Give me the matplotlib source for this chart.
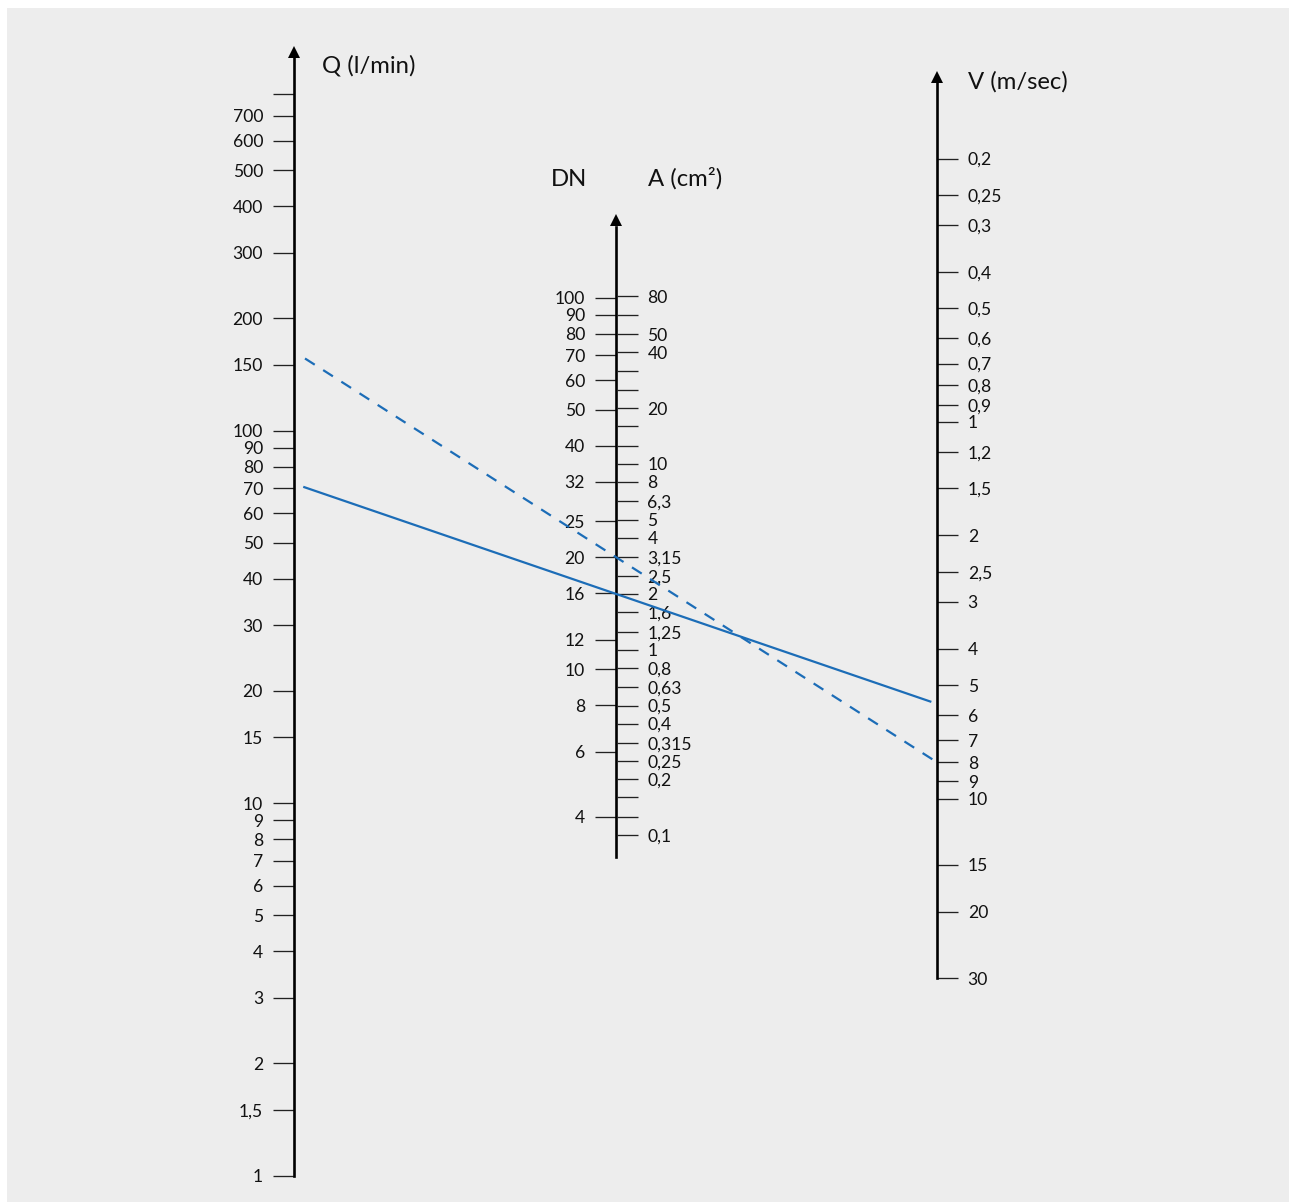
"""Nomogram: flow rate Q, nominal size DN / cross section A and velocity V."""

import matplotlib as mpl

mpl.use("Agg")
import matplotlib.pyplot as plt
import numpy as np
from matplotlib.lines import Line2D
from matplotlib.patches import Rectangle
from matplotlib.ticker import NullLocator
from matplotlib.transforms import ScaledTranslation

# Q scale (l/min), log, increasing upwards
Q_TICKS = [1, 1.5, 2, 3, 4, 5, 6, 7, 8, 9, 10, 15, 20, 30, 40, 50, 60, 70,
           80, 90, 100, 150, 200, 300, 400, 500, 600, 700, 800]
Q_LABELS = ["1", "1,5", "2", "3", "4", "5", "6", "7", "8", "9", "10", "15",
            "20", "30", "40", "50", "60", "70", "80", "90", "100", "150",
            "200", "300", "400", "500", "600", "700", ""]

# DN scale (mm), left side of the middle axis
DN_TICKS = [4, 6, 8, 10, 12, 16, 20, 25, 32, 40, 50, 60, 70, 80, 90, 100]
DN_LABELS = ["4", "6", "8", "10", "12", "16", "20", "25", "32", "40", "50",
             "60", "70", "80", "90", "100"]

# A scale (cm2), right side of the middle axis
A_TICKS = [0.1, 0.125, 0.16, 0.2, 0.25, 0.315, 0.4, 0.5, 0.63, 0.8, 1, 1.25,
           1.6, 2, 2.5, 3.15, 4, 5, 6.3, 8, 10, 12.5, 16, 20, 25, 31.5, 40,
           50, 63, 80]
A_LABELS = ["0,1", "", "", "0,2", "0,25", "0,315", "0,4", "0,5", "0,63",
            "0,8", "1", "1,25", "1,6", "2", "2,5", "3,15", "4", "5", "6,3",
            "8", "10", "", "", "20", "", "", "40", "50", "", "80"]

# V scale (m/sec), log, increasing downwards
V_TICKS = [0.2, 0.25, 0.3, 0.4, 0.5, 0.6, 0.7, 0.8, 0.9, 1, 1.2, 1.5, 2,
           2.5, 3, 4, 5, 6, 7, 8, 9, 10, 15, 20, 30]
V_LABELS = ["0,2", "0,25", "0,3", "0,4", "0,5", "0,6", "0,7", "0,8", "0,9",
            "1", "1,2", "1,5", "2", "2,5", "3", "4", "5", "6", "7", "8", "9",
            "10", "15", "20", "30"]

# reading lines: Q where they meet the Q scale, V where they meet the V scale
LINE_Q = [72, 163]
LINE_V = [5.6, 8.0]

# scale ranges (bottom value, top value)
Q_LIM = (1, 1000)
DN_LIM = (3.12, 155.5)
V_LIM = (30, 0.126)

# ---- layout (pixels) ----
W, H, DPI = 1289, 1202, 100
BG = "#ededed"
BLUE = "#1c6db7"
INK = "#111111"
AX_W = 0.5  # axes are just a spine

Q_X, Q_BOT, Q_TOP = 294, 1175.5, 58
DN_X, DN_BOT, DN_TOP = 616, 857, 226.5
V_X, V_BOT, V_TOP = 936.7, 978.3, 83

TICK_LEN = 21 * 72 / DPI
TICK_PAD = 10 * 72 / DPI
ARROW = 12.5  # px
LABEL_SIZE = 12.6
TITLE_SIZE = 17.2

LINE_GAPS = [(10.3, 6.4), (11.0, 3.0)]
LINE_DASH = ["-", (0, (5.2, 4.5))]

plt.rcParams["font.family"] = ["Lato", "DejaVu Sans"]


def px_rect(x, y_bot, y_top):
    return [x / W, 1 - y_bot / H, AX_W / W, (y_bot - y_top) / H]


def style_scale(ax, ticks, labels, side):
    ax.set_yscale("log")
    ax.set_yticks(ticks, labels)
    ax.yaxis.set_minor_locator(NullLocator())
    ax.set_xticks([])
    if side == "left":
        ax.yaxis.tick_left()
    else:
        ax.yaxis.tick_right()
    ax.tick_params(axis="y", which="major", direction="out", length=TICK_LEN,
                   width=0.95, color="#222222", pad=TICK_PAD,
                   labelsize=LABEL_SIZE, labelcolor=INK)


def make_axes(fig, x, y_bot, y_top, side):
    ax = fig.add_axes(px_rect(x if side == "left" else x - AX_W, y_bot, y_top))
    ax.patch.set_visible(False)
    for s in ax.spines.values():
        s.set_visible(False)
    ax.spines[side].set_visible(True)
    ax.spines[side].set_linewidth(1.9)
    ax.spines[side].set_color("black")
    ax.set_xlim(0, 1)
    ax.set_autoscale_on(False)
    # arrow head on top of the spine
    shift = ScaledTranslation(0, ARROW / 2 / DPI, fig.dpi_scale_trans)
    ax.plot([0 if side == "left" else 1], [1], transform=ax.transAxes + shift,
            marker="^", ms=ARROW * 72 / DPI, color="black", mew=0,
            clip_on=False)
    return ax


def main():
    fig = plt.figure(figsize=(W / DPI, H / DPI), dpi=DPI, facecolor="white")
    fig.add_artist(Rectangle((7 / W, 0), 1 - 7 / W, 1 - 8 / H,
                             transform=fig.transFigure, facecolor=BG,
                             edgecolor="none", zorder=-10))

    ax_q = make_axes(fig, Q_X, Q_BOT, Q_TOP, "left")
    style_scale(ax_q, Q_TICKS, Q_LABELS, "left")
    ax_q.set_ylim(Q_LIM)

    ax_dn = make_axes(fig, DN_X, DN_BOT, DN_TOP, "left")
    style_scale(ax_dn, DN_TICKS, DN_LABELS, "left")
    ax_dn.set_ylim(DN_LIM)

    # A = pi/4 * d^2, d in cm
    ax_a = ax_dn.twinx()
    ax_a.patch.set_visible(False)
    for s in ax_a.spines.values():
        s.set_visible(False)
    style_scale(ax_a, A_TICKS, A_LABELS, "right")
    ax_a.set_ylim([np.pi / 4 * (d / 10) ** 2 for d in DN_LIM])

    ax_v = make_axes(fig, V_X, V_BOT, V_TOP, "right")
    style_scale(ax_v, V_TICKS, V_LABELS, "right")
    ax_v.set_ylim(V_LIM)

    # headers
    fig.text(322 / W, 1 - 72.7 / H, "Q (l/min)", fontsize=TITLE_SIZE,
             color=INK, ha="left", va="baseline")
    fig.text(968 / W, 1 - 88.3 / H, "V (m/sec)", fontsize=TITLE_SIZE,
             color=INK, ha="left", va="baseline")
    fig.text(587 / W, 1 - 186 / H, "DN", fontsize=TITLE_SIZE, color=INK,
             ha="right", va="baseline")
    fig.text(648 / W, 1 - 186 / H, "A (cm²)", fontsize=TITLE_SIZE, color=INK,
             ha="left", va="baseline")

    # reading lines between the Q and V scales
    to_fig = fig.transFigure.inverted()
    for q, v, (g0, g1), ls in zip(LINE_Q, LINE_V, LINE_GAPS, LINE_DASH):
        p0 = ax_q.transData.transform((0, q))
        p1 = ax_v.transData.transform((1, v))
        span = p1[0] - p0[0]
        a = p0 + (p1 - p0) * (g0 / span)
        b = p0 + (p1 - p0) * (1 - g1 / span)
        a, b = to_fig.transform(a), to_fig.transform(b)
        fig.add_artist(Line2D([a[0], b[0]], [a[1], b[1]], color=BLUE,
                              linewidth=1.6, linestyle=ls,
                              transform=fig.transFigure, zorder=5))

    fig.savefig("out.png", dpi=DPI, facecolor="white")
    plt.close(fig)


if __name__ == "__main__":
    main()
